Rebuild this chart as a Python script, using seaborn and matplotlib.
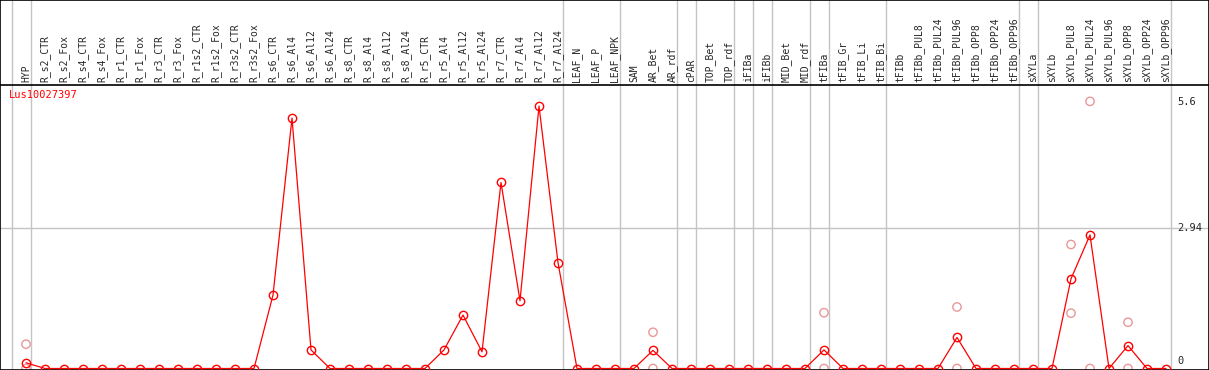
import numpy as np
import pandas as pd
import seaborn as sns
import matplotlib.pyplot as plt

# sample names (one column each)
samples = ["HYP",
           "R_s2_CTR", "R_s2_Fox", "R_s4_CTR", "R_s4_Fox", "R_r1_CTR", "R_r1_Fox",
           "R_r3_CTR", "R_r3_Fox", "R_r1s2_CTR", "R_r1s2_Fox", "R_r3s2_CTR", "R_r3s2_Fox",
           "R_s6_CTR", "R_s6_Al4", "R_s6_Al12", "R_s6_Al24",
           "R_s8_CTR", "R_s8_Al4", "R_s8_Al12", "R_s8_Al24",
           "R_r5_CTR", "R_r5_Al4", "R_r5_Al12", "R_r5_Al24",
           "R_r7_CTR", "R_r7_Al4", "R_r7_Al12", "R_r7_Al24",
           "LEAF_N", "LEAF_P", "LEAF_NPK", "SAM", "AR_Bet", "AR_rdf", "cPAR",
           "TOP_Bet", "TOP_rdf", "iFIBa", "iFIBb", "MID_Bet", "MID_rdf",
           "tFIBa", "tFIB_Gr", "tFIB_Li", "tFIB_Bi", "tFIBb",
           "tFIBb_PUL8", "tFIBb_PUL24", "tFIBb_PUL96", "tFIBb_OPP8", "tFIBb_OPP24", "tFIBb_OPP96",
           "sXYLa", "sXYLb",
           "sXYLb_PUL8", "sXYLb_PUL24", "sXYLb_PUL96", "sXYLb_OPP8", "sXYLb_OPP24", "sXYLb_OPP96"]

# mean expression per sample
means = [0.12,
         0, 0, 0, 0, 0, 0, 0, 0, 0, 0, 0, 0,
         1.54, 5.25, 0.39, 0,
         0, 0, 0, 0,
         0, 0.39, 1.12, 0.35,
         3.9, 1.42, 5.5, 2.22,
         0, 0, 0, 0, 0.38, 0, 0,
         0, 0, 0, 0, 0, 0,
         0.39, 0, 0, 0, 0,
         0, 0, 0.65, 0, 0, 0,
         0, 0,
         1.88, 2.8, 0, 0.48, 0, 0]

# individual replicates that show apart from the mean
rep_samples = ["HYP", "HYP", "AR_Bet", "AR_Bet", "tFIBa", "tFIBa",
               "tFIBb_PUL96", "tFIBb_PUL96", "sXYLb_PUL8", "sXYLb_PUL8",
               "sXYLb_PUL24", "sXYLb_PUL24", "sXYLb_OPP8", "sXYLb_OPP8"]
rep_values = [0.51, 0, 0.76, 0, 1.17, 0,
              1.29, 0, 2.6, 1.16,
              5.6, 0, 0.97, 0]

gene = "Lus10027397"
yticks = [0, 2.94, 5.6]
# group separators drawn after these column indices
group_ends = [-1, 0, 28, 31, 34, 35, 37, 38, 39, 41, 42, 45, 52, 53, 60]

red = "#ff0000"
pink = "#e89898"
grey = "#c4c4c4"
mono = "DejaVu Sans Mono"

df = pd.DataFrame({"sample": samples, "value": means})
df["pos"] = np.arange(len(samples))
pos_of = dict(zip(samples, df["pos"]))
reps = pd.DataFrame({"pos": [pos_of[s] for s in rep_samples], "value": rep_values})

sns.set_style("white")
fig = plt.figure(figsize=(12.09, 3.70), dpi=100)
ax = fig.add_axes([0, 0, 1, 1])

scale = 47.7          # px per unit
zero_px = 368.5
ax.set_xlim(-26 / 19, (1209 - 26) / 19)
ax.set_ylim(-(370 - zero_px) / scale, zero_px / scale)
top_plot = (zero_px - 85) / scale

for g in group_ends:
    ax.axvline(g + 0.25, color=grey, lw=1, zorder=0)
ax.axhline(yticks[1], color=grey, lw=1, zorder=0)
ax.axhline(top_plot, color="black", lw=1.2, zorder=1)

sns.scatterplot(data=reps, x="pos", y="value", ax=ax, marker="o", s=36,
                facecolors="none", edgecolor=pink, linewidth=1, zorder=2)
sns.lineplot(data=df, x="pos", y="value", ax=ax, color=red, lw=0.9,
             marker="o", ms=6, mfc="none", mec=red, mew=1, zorder=3)

for i, s in enumerate(samples):
    ax.text(i, top_plot + 0.06, s, rotation=90, ha="center", va="bottom",
            fontsize=7, family=mono)

ax.text(-0.9, top_plot - 0.1, gene, color=red, fontsize=7.5, family=mono,
        ha="left", va="top")
for t in yticks:
    if t == 0:
        ax.text(60.6, t + 0.05, f"{t:g}", fontsize=7.5, family=mono,
                ha="left", va="bottom")
    else:
        ax.text(60.6, t + 0.1, f"{t:g}", fontsize=7.5, family=mono,
                ha="left", va="top")

ax.set_xticks([])
ax.set_yticks([])
ax.set_xlabel("")
ax.set_ylabel("")
for sp in ax.spines.values():
    sp.set_visible(True)
    sp.set_color("black")
    sp.set_linewidth(1.2)

fig.savefig("out.png", dpi=100)
